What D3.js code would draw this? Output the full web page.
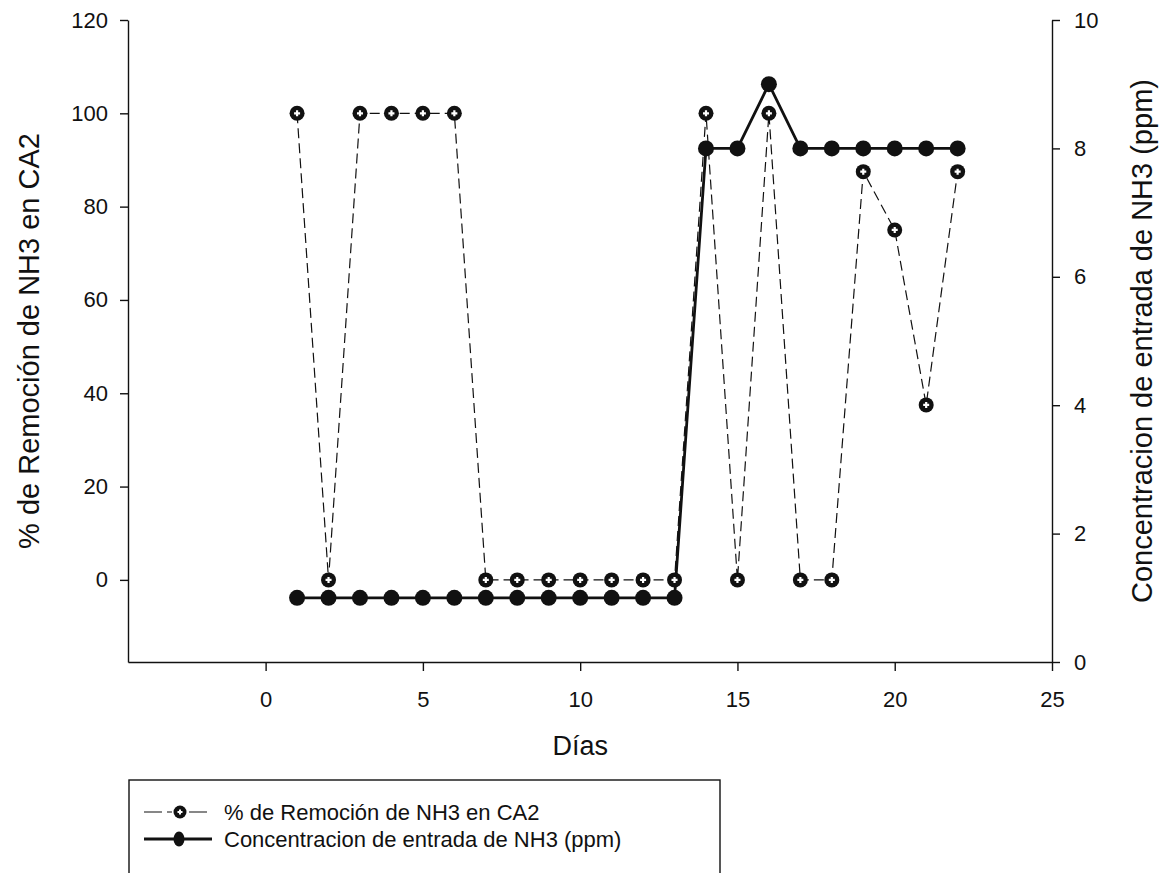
<!DOCTYPE html>
<html>
<meta charset="utf-8">
<head>
    <title>Remocion NH3 CA2</title>
    <script src="https://d3js.org/d3.v7.min.js"></script>
    <style>
    body { margin: 0; background: white; }
    text { font-family: Arial, "Liberation Sans", sans-serif; fill: #111; }
    </style>
</head>
<body>
<script>

// Data
var dias = [1, 2, 3, 4, 5, 6, 7, 8, 9, 10, 11, 12, 13, 14, 15, 16, 17, 18, 19, 20, 21, 22];
var remocion = [100, 0, 100, 100, 100, 100, 0, 0, 0, 0, 0, 0, 0, 100, 0, 100, 0, 0, 87.5, 75, 37.5, 87.5];
var concentracion = [1, 1, 1, 1, 1, 1, 1, 1, 1, 1, 1, 1, 1, 8, 8, 9, 8, 8, 8, 8, 8, 8];

var xTicks = [0, 5, 10, 15, 20, 25];
var yLeftTicks = [0, 20, 40, 60, 80, 100, 120];
var yRightTicks = [0, 2, 4, 6, 8, 10];

var width = 1162;
var height = 873;

var svg = d3.select("body")
    .append("svg")
    .attr("width", width)
    .attr("height", height);

// plot area
var plot = { left: 128, right: 1052, top: 20, bottom: 662 };

var x = d3.scaleLinear().domain([-4.375, 25]).range([plot.left, plot.right]);
var yL = d3.scaleLinear().domain([-17.6, 120]).range([plot.bottom, plot.top]);
var yR = d3.scaleLinear().domain([0, 10]).range([plot.bottom, plot.top]);

// axes
var xAxis = svg.append("g")
    .attr("transform", "translate(0," + plot.bottom + ")")
    .call(d3.axisBottom(x).tickValues(xTicks).tickSize(9).tickPadding(20).tickSizeOuter(0));

var lAxis = svg.append("g")
    .attr("transform", "translate(" + plot.left + ",0)")
    .call(d3.axisLeft(yL).tickValues(yLeftTicks).tickSize(8).tickPadding(12).tickSizeOuter(0));

var rAxis = svg.append("g")
    .attr("transform", "translate(" + plot.right + ",0)")
    .call(d3.axisRight(yR).tickValues(yRightTicks).tickSize(8).tickPadding(14).tickSizeOuter(0));

[xAxis, lAxis, rAxis].forEach(function(a) {
    a.selectAll("path, line").attr("stroke", "#111").attr("stroke-width", 1.4);
    a.selectAll("text").style("font-size", "22px").attr("fill", "#111");
});

// axis titles
svg.append("text")
    .attr("x", x(10))
    .attr("y", 755)
    .attr("text-anchor", "middle")
    .style("font-size", "27px")
    .text("Días");

svg.append("text")
    .attr("transform", "translate(39," + ((plot.top + plot.bottom) / 2) + ") rotate(-90)")
    .attr("text-anchor", "middle")
    .style("font-size", "29px")
    .text("% de Remoción de NH3 en CA2");

svg.append("text")
    .attr("transform", "translate(1152," + ((plot.top + plot.bottom) / 2) + ") rotate(-90)")
    .attr("text-anchor", "middle")
    .style("font-size", "29px")
    .text("Concentracion de entrada de NH3 (ppm)");

var remData = dias.map(function(d, i) { return [d, remocion[i]]; });
var conData = dias.map(function(d, i) { return [d, concentracion[i]]; });

// removal series: dashed line
svg.append("path")
    .datum(remData)
    .attr("fill", "none")
    .attr("stroke", "#111")
    .attr("stroke-width", 1.2)
    .attr("stroke-dasharray", "10,5")
    .attr("d", d3.line().x(function(d) { return x(d[0]); }).y(function(d) { return yL(d[1]); }));

// concentration series: solid line
svg.append("path")
    .datum(conData)
    .attr("fill", "none")
    .attr("stroke", "#111")
    .attr("stroke-width", 2.8)
    .attr("d", d3.line().x(function(d) { return x(d[0]); }).y(function(d) { return yR(d[1]); }));

svg.selectAll(".con")
    .data(conData)
    .enter()
    .append("circle")
    .attr("class", "con")
    .attr("cx", function(d) { return x(d[0]); })
    .attr("cy", function(d) { return yR(d[1]); })
    .attr("r", 8)
    .attr("fill", "#111");

var rem = svg.selectAll(".rem")
    .data(remData)
    .enter()
    .append("g")
    .attr("class", "rem")
    .attr("transform", function(d) { return "translate(" + x(d[0]) + "," + yL(d[1]) + ")"; });

rem.append("circle")
    .attr("r", 7.5)
    .attr("fill", "#111");

rem.append("path")
    .attr("d", "M-3,0H3M0,-3V3")
    .attr("stroke", "white")
    .attr("stroke-width", 2.2);

// legend
svg.append("rect")
    .attr("x", 129)
    .attr("y", 780)
    .attr("width", 591)
    .attr("height", 110)
    .attr("fill", "none")
    .attr("stroke", "#111")
    .attr("stroke-width", 1.4);

var leg1 = 812, leg2 = 839;

svg.append("path")
    .attr("d", "M144," + leg1 + "H162M167," + leg1 + "H172M189," + leg1 + "H207")
    .attr("stroke", "#111")
    .attr("stroke-width", 1.2);

var lm = svg.append("g").attr("transform", "translate(180," + leg1 + ")");
lm.append("circle").attr("r", 6.5).attr("fill", "#111");
lm.append("path")
    .attr("d", "M-2.5,0H2.5M0,-2.5V2.5")
    .attr("stroke", "white")
    .attr("stroke-width", 2);

svg.append("path")
    .attr("d", "M144," + leg2 + "H212")
    .attr("stroke", "#111")
    .attr("stroke-width", 2.8);

svg.append("ellipse")
    .attr("cx", 179).attr("cy", leg2)
    .attr("rx", 5.5).attr("ry", 7.5)
    .attr("fill", "#111");

svg.append("text")
    .attr("x", 224).attr("y", leg1 + 8)
    .style("font-size", "22px")
    .text("% de Remoción de NH3 en CA2");

svg.append("text")
    .attr("x", 224).attr("y", leg2 + 8)
    .style("font-size", "22px")
    .text("Concentracion de entrada de NH3 (ppm)");

</script>
</body>
</html>
